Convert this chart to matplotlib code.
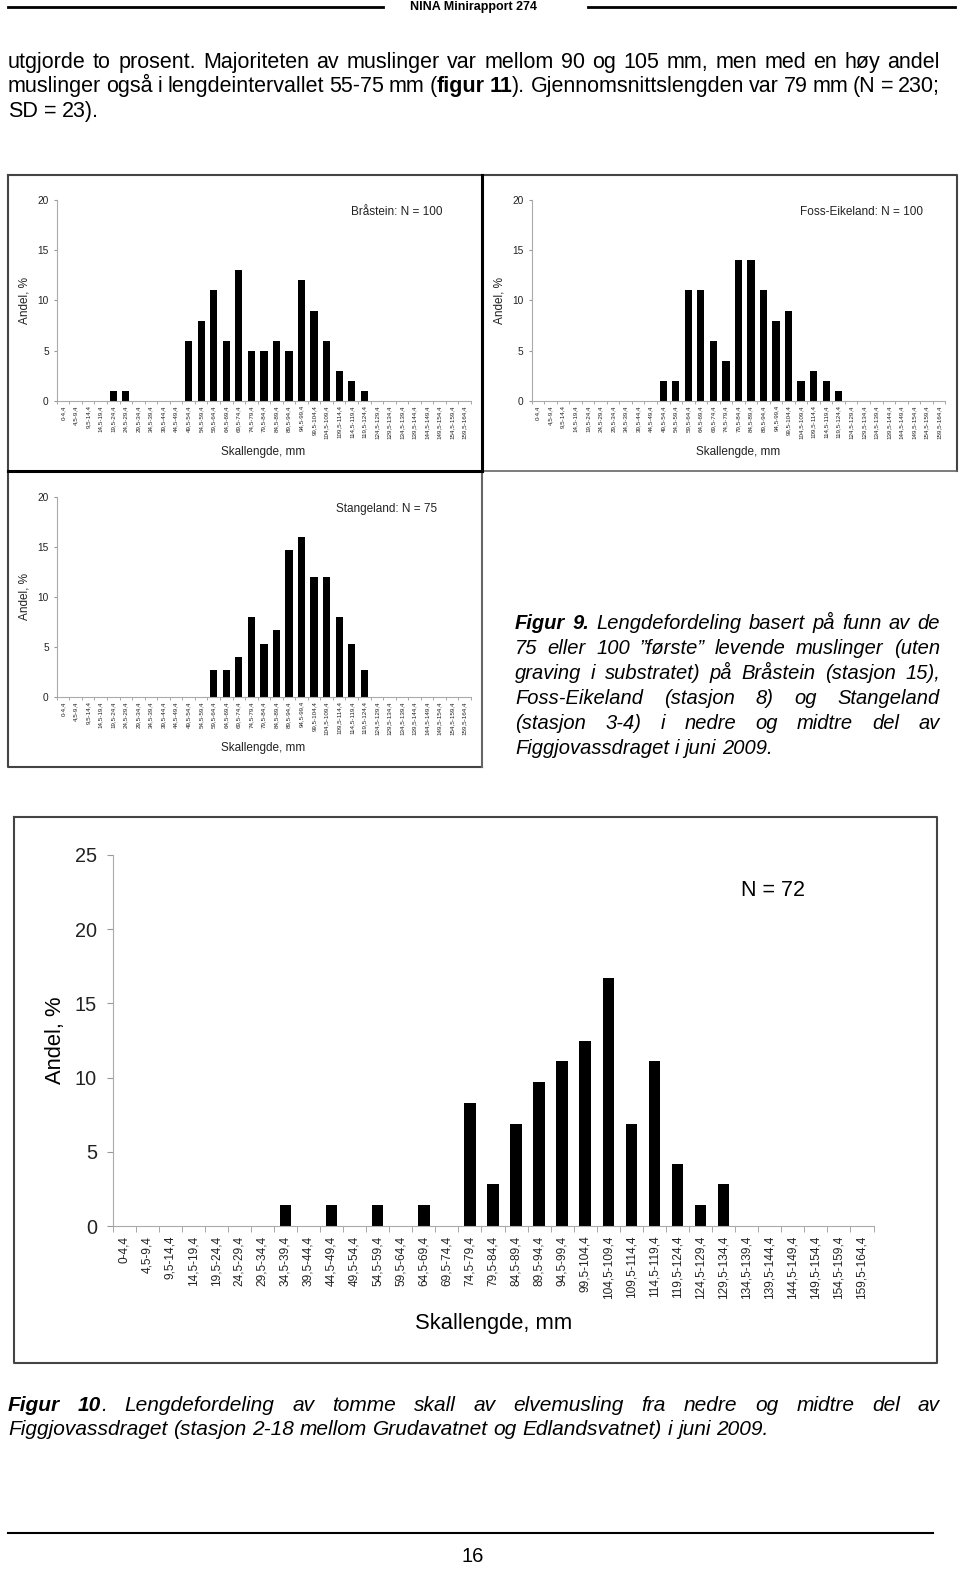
import numpy as np
import matplotlib
matplotlib.use("Agg")
import matplotlib.pyplot as plt
from matplotlib import font_manager
from matplotlib.lines import Line2D

# size classes (mm), shared by all four histograms
labels = ["0-4,4", "4,5-9,4", "9,5-14,4", "14,5-19,4", "19,5-24,4", "24,5-29,4",
          "29,5-34,4", "34,5-39,4", "39,5-44,4", "44,5-49,4", "49,5-54,4", "54,5-59,4",
          "59,5-64,4", "64,5-69,4", "69,5-74,4", "74,5-79,4", "79,5-84,4", "84,5-89,4",
          "89,5-94,4", "94,5-99,4", "99,5-104,4", "104,5-109,4", "109,5-114,4",
          "114,5-119,4", "119,5-124,4", "124,5-129,4", "129,5-134,4", "134,5-139,4",
          "139,5-144,4", "144,5-149,4", "149,5-154,4", "154,5-159,4", "159,5-164,4"]

# andel, % (figur 9)
braastein = [0, 0, 0, 0, 1, 1, 0, 0, 0, 0, 6, 8, 11, 6, 13, 5, 5, 6, 5, 12, 9, 6, 3, 2, 1,
             0, 0, 0, 0, 0, 0, 0, 0]
foss_eikeland = [0, 0, 0, 0, 0, 0, 0, 0, 0, 0, 2, 2, 11, 11, 6, 4, 14, 14, 11, 8, 9, 2, 3, 2, 1,
                 0, 0, 0, 0, 0, 0, 0, 0]
stangeland = [0, 0, 0, 0, 0, 0, 0, 0, 0, 0, 0, 0, 2.7, 2.7, 4.0, 8.0, 5.3, 6.7, 14.7, 16.0,
              12.0, 12.0, 8.0, 5.3, 2.7, 0, 0, 0, 0, 0, 0, 0, 0]
# andel, % (figur 10, tomme skall)
tomme_skall = [0, 0, 0, 0, 0, 0, 0, 1.4, 0, 1.4, 0, 1.4, 0, 1.4, 0, 8.3, 2.8, 6.9, 9.7, 11.1,
               12.5, 16.7, 6.9, 11.1, 4.2, 1.4, 2.8, 0, 0, 0, 0, 0, 0]

W, H = 960, 1572
names = {f.name for f in font_manager.fontManager.ttflist}
narrow = "Liberation Sans Narrow" if "Liberation Sans Narrow" in names else None
plt.rcParams['font.family'] = ['Liberation Sans', 'DejaVu Sans']

fig = plt.figure(figsize=(9.6, 15.72), dpi=100)
renderer = fig.canvas.get_renderer()


def fx(x):
    return x / W


def fy(y):
    return 1 - y / H


def rect(x0, y0, x1, y1):
    return [fx(x0), fy(y1), (x1 - x0) / W, (y1 - y0) / H]


def line(xs, ys, lw=1.0, c='black'):
    fig.add_artist(Line2D([fx(x) for x in xs], [fy(y) for y in ys], lw=lw, color=c))


def txt(x, y, s, size, **kw):
    return fig.text(fx(x), fy(y), s, fontsize=size, ha='center', va='center', **kw)


def para_line(s, x0, x1, base, size, style='normal', justify=True):
    # words split on space, '*' toggles bold
    bold = False
    words = []
    for w in s.split(' '):
        segs = []
        for k, p in enumerate(w.split('*')):
            if k > 0:
                bold = not bold
            if p:
                t = fig.text(0, fy(base), p, fontsize=size, fontstyle=style,
                             fontweight='bold' if bold else 'normal', va='baseline', ha='left')
                segs.append((t, t.get_window_extent(renderer).width))
        words.append(segs)
    widths = [sum(wd for _, wd in segs) for segs in words]
    if justify and len(words) > 1:
        gap = (x1 - x0 - sum(widths)) / (len(words) - 1)
    else:
        gap = size * 100 / 72 * 0.278
    x = x0
    for segs in words:
        for t, wd in segs:
            t.set_x(fx(x))
            x += wd
        x += gap


def panel(r, values, ytop, ytick_fs, xtick_fs, family, ylen, ypad, xlen, xpad, width):
    ax = fig.add_axes(r)
    ax.patch.set_alpha(0)
    x = np.arange(len(labels)) + 0.5
    ax.bar(x, values, width=width, color='black')
    ax.set_xlim(0, len(labels))
    ax.set_ylim(0, ytop)
    ax.set_yticks(np.arange(0, ytop + 1, 5))
    ax.set_xticks(x)
    ax.set_xticklabels(labels, rotation=90, fontsize=xtick_fs, family=family)
    ax.set_xticks(np.arange(len(labels) + 1), minor=True)
    for lab in ax.get_yticklabels():
        lab.set_family(family)
    ax.tick_params(axis='x', which='major', length=0, pad=xpad, colors='#222222')
    ax.tick_params(axis='x', which='minor', length=xlen, color='#999999')
    ax.tick_params(axis='y', length=ylen, pad=ypad, color='#999999', labelsize=ytick_fs,
                   labelcolor='#222222')
    for s in ['top', 'right']:
        ax.spines[s].set_visible(False)
    for s in ['left', 'bottom']:
        ax.spines[s].set_color('#aaaaaa')
        ax.spines[s].set_linewidth(0.8)
    return ax


reg = ['Liberation Sans', 'DejaVu Sans']
nar = [narrow, 'DejaVu Sans'] if narrow else reg

# page header
line([8, 383], [7, 7], lw=2)
line([588, 955], [7, 7], lw=2)
txt(473, 7, "NINA Minirapport 274", 10 if narrow else 9, fontweight='bold', family=nar)

# body text
para_line("utgjorde to prosent. Majoriteten av muslinger var mellom 90 og 105 mm, men med en høy andel",
          8, 940, 68, 15.5)
para_line("muslinger også i lengdeintervallet 55-75 mm (*figur 11*). Gjennomsnittslengden var 79 mm (N = 230;",
          8, 940, 92, 15.5)
para_line("SD = 23).", 8, 940, 117, 15.5, justify=False)

# figur 9
for ys, r, vals, title, tx in [
        ((200, 401), (56.8, 471), braastein, "Bråstein: N = 100", 397),
        ((200, 401), (531.7, 945.2), foss_eikeland, "Foss-Eikeland: N = 100", 862),
        ((496.7, 697), (56.8, 471), stangeland, "Stangeland: N = 75", 387)]:
    panel(rect(r[0], ys[0], r[1], ys[1]), vals, 20, 7.3, 4.5, reg, 2, 3.8, 2, 3, 0.58)
    txt(tx, ys[0] + 12, title, 8.5, color='#222222')
    txt((r[0] + r[1]) / 2 - 0.5, ys[1] + 51, "Skallengde, mm", 8.5, color='#222222')
    txt(r[0] - 32, (ys[0] + ys[1]) / 2, "Andel, %", 8.5, rotation=90, color='#222222')

line([8, 957, 957], [175, 175, 471], lw=1.5, c='#444444')
line([8, 8, 482], [175, 767, 767], lw=1.5, c='#444444')
line([482, 957], [471, 471], lw=1.2, c='#666666')
line([482, 482], [471, 767], lw=1.5, c='#666666')
line([482, 482], [175, 471], lw=2.2)
line([8, 482], [471, 471], lw=2.2)

cap9 = ["*Figur 9.* Lengdefordeling basert på funn av de",
        "75 eller 100 ”første” levende muslinger (uten",
        "graving i substratet) på Bråstein (stasjon 15),",
        "Foss-Eikeland (stasjon 8) og Stangeland",
        "(stasjon 3-4) i nedre og midtre del av",
        "Figgjovassdraget i juni 2009."]
for i, s in enumerate(cap9):
    para_line(s, 515, 940, 629 + 25 * i, 14.5, style='italic', justify=i < len(cap9) - 1)

# figur 10
if narrow:
    fs = dict(yt=18, xt=10.5, lab=19, n=19)
else:
    fs = dict(yt=14.3, xt=8.6, lab=15.8, n=15.5)
panel(rect(112.5, 855, 873.5, 1226), tomme_skall, 25, fs['yt'], fs['xt'], nar, 4.3, 6.8, 4, 7, 0.5)
txt(773, 890, "N = 72", fs['n'], family=nar)
txt(494, 1323, "Skallengde, mm", fs['lab'], family=nar)
txt(55, 1040, "Andel, %", fs['lab'], rotation=90, family=nar)
line([14, 937, 937, 14, 14], [817, 817, 1363, 1363, 817], lw=1.5, c='#444444')

para_line("*Figur 10*. Lengdefordeling av tomme skall av elvemusling fra nedre og midtre del av",
          8, 940, 1411, 15, style='italic')
para_line("Figgjovassdraget (stasjon 2-18 mellom Grudavatnet og Edlandsvatnet) i juni 2009.",
          8, 940, 1435, 15, style='italic', justify=False)

# page footer
line([8, 933], [1533, 1533], lw=1.5)
txt(473, 1557, "16", 14.5)

fig.savefig("out.png", dpi=100)
